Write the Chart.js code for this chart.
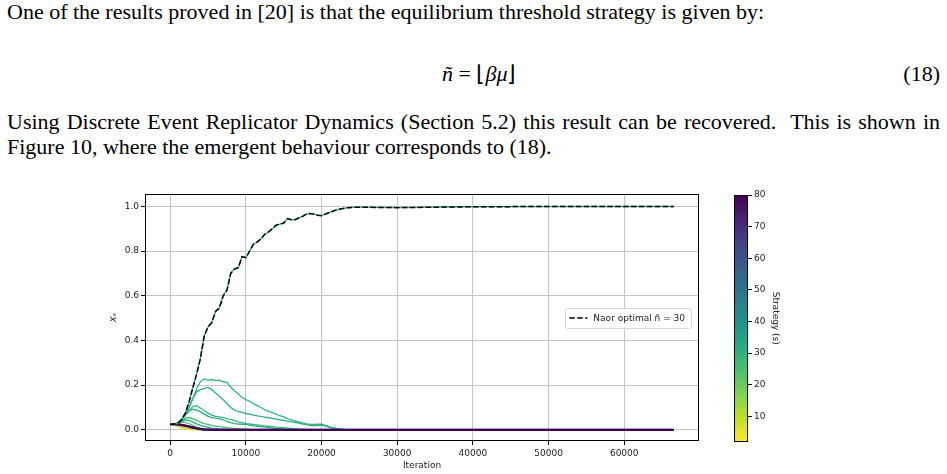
<!DOCTYPE html>
<html>
<head>
<meta charset="utf-8">
<script src="https://cdn.jsdelivr.net/npm/chart.js@4.4.0/dist/chart.umd.min.js"></script>
<style>
  body { margin: 0; background: #fff; width: 947px; height: 474px; overflow: hidden; position: relative; }
  .txt { position: absolute; font-family: 'Liberation Serif', serif; font-size: 22px; line-height: 22px; color: #000; white-space: nowrap; }
  #chartWrap { position: absolute; left: 90px; top: 185px; width: 630px; height: 289px; }
  #cbarWrap { position: absolute; left: 724px; top: 185px; width: 90px; height: 265px; }
</style>
</head>
<body>
<div class="txt" style="left:7px; top:1px;">One of the results proved in [20] is that the equilibrium threshold strategy is given by:</div>
<div class="txt" style="left:442px; top:63px;"><i>ñ</i> = ⌊<i>βμ</i>⌋</div>
<div class="txt" style="right:7px; top:63px;">(18)</div>
<div class="txt" style="left:7px; top:111px; width:933px; white-space:normal; text-align:justify; text-align-last:justify;">Using Discrete Event Replicator Dynamics (Section 5.2) this result can be recovered.&nbsp; This is shown in</div>
<div class="txt" style="left:7px; top:136px;">Figure 10, where the emergent behaviour corresponds to (18).</div>

<div id="chartWrap"><canvas id="myChart"></canvas></div>
<div id="cbarWrap"><canvas id="cbar"></canvas></div>

<script>
// x positions (iteration) shared by every strategy
const iterations = [0, 500, 1000, 1500, 2000, 2500, 3000, 3500, 4000, 4500,
  5000, 5500, 6000, 6500, 7000, 7500, 8000, 8500, 9000, 9500,
  10000, 10500, 11000, 11500, 12000, 12500, 13000, 13500, 14000, 14500,
  15000, 15500, 16000, 16500, 17000, 17500, 18000, 18500, 19000, 19500,
  20000, 20500, 21000, 21500, 22000, 22500, 23000, 23500, 24000, 24500,
  25000, 30000, 35000, 40000, 50000, 60000, 66550];

// strategy 30 - the one that takes over (Naor optimal)
const s30 = [0.025, 0.025, 0.03, 0.045, 0.075, 0.125, 0.19, 0.25, 0.32, 0.42,
  0.46, 0.48, 0.53, 0.545, 0.60, 0.625, 0.70, 0.72, 0.725, 0.775,
  0.77, 0.80, 0.83, 0.84, 0.855, 0.875, 0.885, 0.90, 0.915, 0.92,
  0.925, 0.945, 0.94, 0.94, 0.948, 0.955, 0.965, 0.968, 0.965, 0.96,
  0.958, 0.965, 0.972, 0.978, 0.984, 0.988, 0.991, 0.994, 0.995, 0.996,
  0.996, 0.994, 0.996, 0.998, 0.999, 0.999, 0.999];
const s29 = [0.025, 0.025, 0.03, 0.045, 0.07, 0.10, 0.14, 0.185, 0.215, 0.228,
  0.222, 0.225, 0.22, 0.222, 0.215, 0.212, 0.19, 0.175, 0.16, 0.145,
  0.135, 0.128, 0.118, 0.108, 0.10, 0.09, 0.083, 0.077, 0.07, 0.063,
  0.058, 0.05, 0.044, 0.04, 0.035, 0.031, 0.027, 0.025, 0.024, 0.025,
  0.025, 0.02, 0.014, 0.009, 0.006, 0.004, 0.002, 0.001, 0, 0,
  0, 0, 0, 0, 0, 0, 0];
const s31 = [0.025, 0.025, 0.03, 0.045, 0.07, 0.10, 0.14, 0.17, 0.18, 0.185,
  0.19, 0.18, 0.165, 0.15, 0.135, 0.118, 0.10, 0.088, 0.082, 0.078,
  0.073, 0.07, 0.066, 0.062, 0.06, 0.057, 0.054, 0.051, 0.048, 0.045,
  0.042, 0.039, 0.036, 0.033, 0.03, 0.026, 0.023, 0.02, 0.018, 0.02,
  0.021, 0.016, 0.011, 0.007, 0.004, 0.002, 0.001, 0, 0, 0,
  0, 0, 0, 0, 0, 0, 0];
const s28 = [0.025, 0.025, 0.03, 0.045, 0.065, 0.085, 0.105, 0.108, 0.098, 0.085,
  0.075, 0.066, 0.06, 0.058, 0.055, 0.05, 0.046, 0.042, 0.036, 0.032,
  0.028, 0.026, 0.024, 0.022, 0.02, 0.018, 0.016, 0.014, 0.012, 0.011,
  0.01, 0.008, 0.006, 0.005, 0.004, 0.003, 0.002, 0.001, 0, 0,
  0, 0, 0, 0, 0, 0, 0, 0, 0, 0,
  0, 0, 0, 0, 0, 0, 0];
const s32 = [0.025, 0.025, 0.03, 0.045, 0.065, 0.085, 0.092, 0.088, 0.08, 0.07,
  0.06, 0.055, 0.052, 0.05, 0.045, 0.038, 0.032, 0.028, 0.026, 0.025,
  0.024, 0.021, 0.018, 0.016, 0.014, 0.012, 0.01, 0.008, 0.006, 0.005,
  0.004, 0.003, 0.002, 0.001, 0, 0, 0, 0, 0, 0,
  0, 0, 0, 0, 0, 0, 0, 0, 0, 0,
  0, 0, 0, 0, 0, 0, 0];
const s26 = [0.025, 0.026, 0.03, 0.04, 0.052, 0.055, 0.05, 0.042, 0.034, 0.028,
  0.024, 0.02, 0.017, 0.014, 0.012, 0.01, 0.008, 0.006, 0.005, 0.004,
  0.003, 0.002, 0.001, 0, 0, 0, 0, 0, 0, 0,
  0, 0, 0, 0, 0, 0, 0, 0, 0, 0,
  0, 0, 0, 0, 0, 0, 0, 0, 0, 0,
  0, 0, 0, 0, 0, 0, 0];
const s34 = [0.025, 0.026, 0.03, 0.038, 0.044, 0.042, 0.035, 0.027, 0.02, 0.015,
  0.011, 0.008, 0.006, 0.004, 0.003, 0.002, 0.001, 0, 0, 0,
  0, 0, 0, 0, 0, 0, 0, 0, 0, 0,
  0, 0, 0, 0, 0, 0, 0, 0, 0, 0,
  0, 0, 0, 0, 0, 0, 0, 0, 0, 0,
  0, 0, 0, 0, 0, 0, 0];
const s22 = [0.025, 0.026, 0.03, 0.034, 0.033, 0.028, 0.02, 0.013, 0.008, 0.005,
  0.003, 0.002, 0.001, 0, 0, 0, 0, 0, 0, 0,
  0, 0, 0, 0, 0, 0, 0, 0, 0, 0,
  0, 0, 0, 0, 0, 0, 0, 0, 0, 0,
  0, 0, 0, 0, 0, 0, 0, 0, 0, 0,
  0, 0, 0, 0, 0, 0, 0];
const s12 = [0.025, 0.024, 0.02, 0.015, 0.01, 0.006, 0.003, 0.001, 0, 0,
  0, 0, 0, 0, 0, 0, 0, 0, 0, 0,
  0, 0, 0, 0, 0, 0, 0, 0, 0, 0,
  0, 0, 0, 0, 0, 0, 0, 0, 0, 0,
  0, 0, 0, 0, 0, 0, 0, 0, 0, 0,
  0, 0, 0, 0, 0, 0, 0];
const s4 = [0.025, 0.021, 0.014, 0.008, 0.004, 0.002, 0.001, 0, 0, 0,
  0, 0, 0, 0, 0, 0, 0, 0, 0, 0,
  0, 0, 0, 0, 0, 0, 0, 0, 0, 0,
  0, 0, 0, 0, 0, 0, 0, 0, 0, 0,
  0, 0, 0, 0, 0, 0, 0, 0, 0, 0,
  0, 0, 0, 0, 0, 0, 0];
const s45 = [0.025, 0.025, 0.024, 0.021, 0.017, 0.012, 0.008, 0.005, 0.002, 0.001,
  0, 0, 0, 0, 0, 0, 0, 0, 0, 0,
  0, 0, 0, 0, 0, 0, 0, 0, 0, 0,
  0, 0, 0, 0, 0, 0, 0, 0, 0, 0,
  0, 0, 0, 0, 0, 0, 0, 0, 0, 0,
  0, 0, 0, 0, 0, 0, 0];
const s60 = [0.025, 0.025, 0.024, 0.021, 0.018, 0.014, 0.01, 0.006, 0.003, 0.001,
  0, 0, 0, 0, 0, 0, 0, 0, 0, 0,
  0, 0, 0, 0, 0, 0, 0, 0, 0, 0,
  0, 0, 0, 0, 0, 0, 0, 0, 0, 0,
  0, 0, 0, 0, 0, 0, 0, 0, 0, 0,
  0, 0, 0, 0, 0, 0, 0];
const s80 = [0.025, 0.025, 0.024, 0.022, 0.019, 0.015, 0.011, 0.007, 0.004, 0.002,
  0.001, 0, 0, 0, 0, 0, 0, 0, 0, 0,
  0, 0, 0, 0, 0, 0, 0, 0, 0, 0,
  0, 0, 0, 0, 0, 0, 0, 0, 0, 0,
  0, 0, 0, 0, 0, 0, 0, 0, 0, 0,
  0, 0, 0, 0, 0, 0, 0];

// strategy number -> its series (drawn in this order, later on top)
const strategies = [4, 12, 22, 26, 28, 29, 31, 32, 34, 45, 60, 80, 30];
const seriesByStrategy = { 4: s4, 12: s12, 22: s22, 26: s26, 28: s28, 29: s29, 30: s30,
  31: s31, 32: s32, 34: s34, 45: s45, 60: s60, 80: s80 };

const optimalStrategy = 30;
const optimalLabel = 'Naor optimal ñ = 30';
const xTicks = [0, 10000, 20000, 30000, 40000, 50000, 60000];
const yTicks = [0.0, 0.2, 0.4, 0.6, 0.8, 1.0];
const cbarRange = [2, 80];
const cbarTicks = [10, 20, 30, 40, 50, 60, 70, 80];

// viridis stops, low -> high
const VIRIDIS = ['#440154', '#482475', '#414487', '#355f8d', '#2a788e', '#21918c',
  '#22a884', '#44bf70', '#7ad151', '#bddf26', '#fde725'];

function viridis(t) {
  t = Math.min(1, Math.max(0, t));
  const p = t * (VIRIDIS.length - 1);
  const i = Math.min(Math.floor(p), VIRIDIS.length - 2);
  const f = p - i;
  const a = VIRIDIS[i], b = VIRIDIS[i + 1];
  const ch = (c, k) => parseInt(c.substr(1 + k * 2, 2), 16);
  const mix = k => Math.round(ch(a, k) + (ch(b, k) - ch(a, k)) * f);
  return `rgb(${mix(0)}, ${mix(1)}, ${mix(2)})`;
}
// reversed viridis: small strategy = yellow, large = purple
const strategyColor = s => viridis(1 - (s - cbarRange[0]) / (cbarRange[1] - cbarRange[0]));

Chart.defaults.font.family = 'DejaVu Sans';
Chart.defaults.font.size = 9;
Chart.defaults.color = '#222';

// full black box around the plot area
const frame = {
  id: 'frame',
  afterDatasetsDraw(chart) {
    const { ctx, chartArea: a } = chart;
    ctx.save();
    ctx.strokeStyle = '#000';
    ctx.lineWidth = 1;
    ctx.strokeRect(Math.round(a.left) + 0.5, Math.round(a.top) + 0.5,
      Math.round(a.right - a.left) - 1, Math.round(a.bottom - a.top) - 1);
    ctx.restore();
  }
};

// matplotlib style "center right" legend inside the axes
const legendBox = {
  id: 'legendBox',
  afterDraw(chart) {
    const ds = chart.data.datasets.find(d => d.inLegend);
    if (!ds) return;
    const { ctx, chartArea: a } = chart;
    ctx.save();
    ctx.font = '9px "DejaVu Sans"';
    const tw = ctx.measureText(ds.label).width;
    const h = 20, w = tw + 34;
    const x = a.right - 8 - w, y = (a.top + a.bottom) / 2 - h / 2;
    ctx.fillStyle = 'rgba(255,255,255,0.8)';
    ctx.strokeStyle = '#d6d6d6';
    ctx.lineWidth = 1;
    ctx.beginPath();
    ctx.roundRect(Math.round(x) + 0.5, Math.round(y) + 0.5, Math.round(w), h, 2);
    ctx.fill();
    ctx.stroke();
    ctx.strokeStyle = '#000';
    ctx.lineWidth = 1.5;
    ctx.setLineDash(ds.borderDash);
    ctx.beginPath();
    ctx.moveTo(x + 4, y + h / 2 + 0.5);
    ctx.lineTo(x + 22, y + h / 2 + 0.5);
    ctx.stroke();
    ctx.setLineDash([]);
    ctx.fillStyle = '#222';
    ctx.textBaseline = 'middle';
    ctx.fillText(ds.label, x + 28, y + h / 2 + 1);
    ctx.restore();
  }
};

const toPoints = arr => arr.map((v, i) => ({ x: iterations[i], y: v }));

const datasets = [{
  label: optimalLabel,
  inLegend: true,
  data: toPoints(seriesByStrategy[optimalStrategy]),
  borderColor: '#000',
  borderWidth: 1.5,
  borderDash: [5.5, 2.4],
  order: 0
}];
strategies.forEach((s, idx) => {
  datasets.push({
    label: 's=' + s,
    data: toPoints(seriesByStrategy[s]),
    borderColor: strategyColor(s),
    borderWidth: s >= 60 ? 2.2 : 1.3,
    order: strategies.length - idx
  });
});

new Chart(document.getElementById('myChart'), {
  type: 'line',
  data: { datasets },
  options: {
    animation: false,
    responsive: true,
    maintainAspectRatio: false,
    layout: { padding: { top: 9, right: 21, left: 0, bottom: 0 } },
    elements: { point: { radius: 0 }, line: { tension: 0 } },
    plugins: { legend: { display: false }, tooltip: { enabled: false } },
    scales: {
      x: {
        type: 'linear',
        min: -3328,
        max: 69880,
        afterBuildTicks: scale => { scale.ticks = xTicks.map(v => ({ value: v })); },
        afterFit: scale => { scale.height = 33; },
        ticks: { callback: v => String(v), padding: 3, maxRotation: 0 },
        grid: { color: '#c4c4c4', lineWidth: 1, tickLength: 4, tickColor: '#000' },
        border: { display: false },
        title: { display: true, text: 'Iteration', padding: { top: 0, bottom: 3 } }
      },
      y: {
        min: -0.05,
        max: 1.055,
        afterBuildTicks: scale => { scale.ticks = yTicks.map(v => ({ value: v })); },
        afterFit: scale => { scale.width = 55; },
        ticks: { callback: v => v.toFixed(1), padding: 2 },
        grid: { color: '#c4c4c4', lineWidth: 1, tickLength: 4, tickColor: '#000' },
        border: { display: false },
        title: { display: true, text: 'xₛ', font: { style: 'italic', size: 10 }, padding: { top: 17, bottom: 0 } }
      }
    }
  },
  plugins: [frame, legendBox]
});

// colorbar
new Chart(document.getElementById('cbar'), {
  type: 'bar',
  data: {
    labels: ['s'],
    datasets: [{
      data: [cbarRange],
      barPercentage: 1,
      categoryPercentage: 1,
      borderWidth: 0,
      backgroundColor(ctx) {
        const a = ctx.chart.chartArea;
        if (!a) return '#21918c';
        const g = ctx.chart.ctx.createLinearGradient(0, a.bottom, 0, a.top);
        VIRIDIS.forEach((c, i) => g.addColorStop(1 - i / (VIRIDIS.length - 1), c));
        return g;
      }
    }]
  },
  options: {
    animation: false,
    responsive: true,
    maintainAspectRatio: false,
    layout: { padding: { top: 10, left: 10, bottom: 8.5, right: 0 } },
    plugins: { legend: { display: false }, tooltip: { enabled: false } },
    scales: {
      x: { display: false },
      y: {
        position: 'right',
        min: cbarRange[0],
        max: cbarRange[1],
        afterBuildTicks: scale => { scale.ticks = cbarTicks.map(v => ({ value: v })); },
        afterFit: scale => { scale.width = 66; },
        ticks: { padding: 2 },
        grid: { drawOnChartArea: false, tickLength: 4, tickColor: '#000' },
        border: { display: false },
        title: { display: true, text: 'Strategy (s)', padding: { top: 33, bottom: 0 } }
      }
    }
  },
  plugins: [frame]
});
</script>
</body>
</html>
